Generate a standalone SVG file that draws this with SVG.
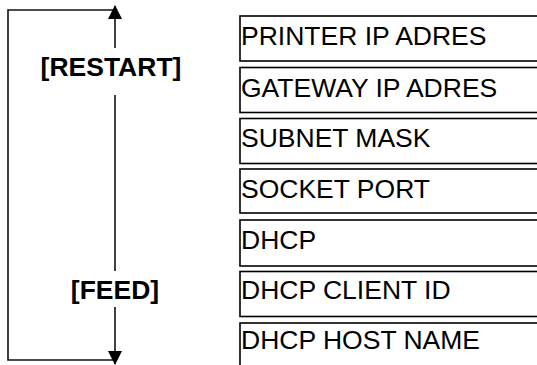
<svg xmlns="http://www.w3.org/2000/svg" width="537" height="365" viewBox="0 0 537 365">
<style>
.box{fill:#fff;stroke:#000;stroke-width:1.6}
.lbl{font-family:"Liberation Sans",Arial,sans-serif;font-size:26.5px;fill:#000}
.key{font-family:"Liberation Sans",Arial,sans-serif;font-size:26.5px;font-weight:bold;fill:#000;text-anchor:middle}
.ln{fill:none;stroke:#111;stroke-width:1.6}
</style>
<defs>
<marker id="ah" markerWidth="14" markerHeight="14" viewBox="0 0 14 14" refX="13" refY="7" orient="auto" markerUnits="userSpaceOnUse">
<path d="M0,0 L14,7 L0,14 Z" fill="#000"/>
</marker>
</defs>
<rect width="537" height="365" fill="#fff"/>
<g id="connectors">
<path class="ln" d="M115,10 H8 V360 H115"/>
<path class="ln" d="M115,48 V6" marker-end="url(#ah)"/>
<path class="ln" d="M115,95 V271"/>
<path class="ln" d="M115,307 V364" marker-end="url(#ah)"/>
</g>
<g id="restart"><text class="key" x="111" y="76">[RESTART]</text></g>
<g id="feed"><text class="key" x="115" y="299">[FEED]</text></g>
<g id="n1"><rect class="box" x="240" y="16" width="310" height="45"/><text class="lbl" x="241" y="45">PRINTER IP ADRES</text></g>
<g id="n2"><rect class="box" x="240" y="67.5" width="310" height="45"/><text class="lbl" x="241" y="97">GATEWAY IP ADRES</text></g>
<g id="n3"><rect class="box" x="240" y="118.5" width="310" height="45"/><text class="lbl" x="241" y="147">SUBNET MASK</text></g>
<g id="n4"><rect class="box" x="240" y="169" width="310" height="44"/><text class="lbl" x="241" y="198">SOCKET PORT</text></g>
<g id="n5"><rect class="box" x="240" y="220" width="310" height="46"/><text class="lbl" x="241" y="249">DHCP</text></g>
<g id="n6"><rect class="box" x="240" y="271.5" width="310" height="45"/><text class="lbl" x="241" y="299">DHCP CLIENT ID</text></g>
<g id="n7"><rect class="box" x="240" y="323" width="310" height="60"/><text class="lbl" x="241" y="349">DHCP HOST NAME</text></g>
</svg>
